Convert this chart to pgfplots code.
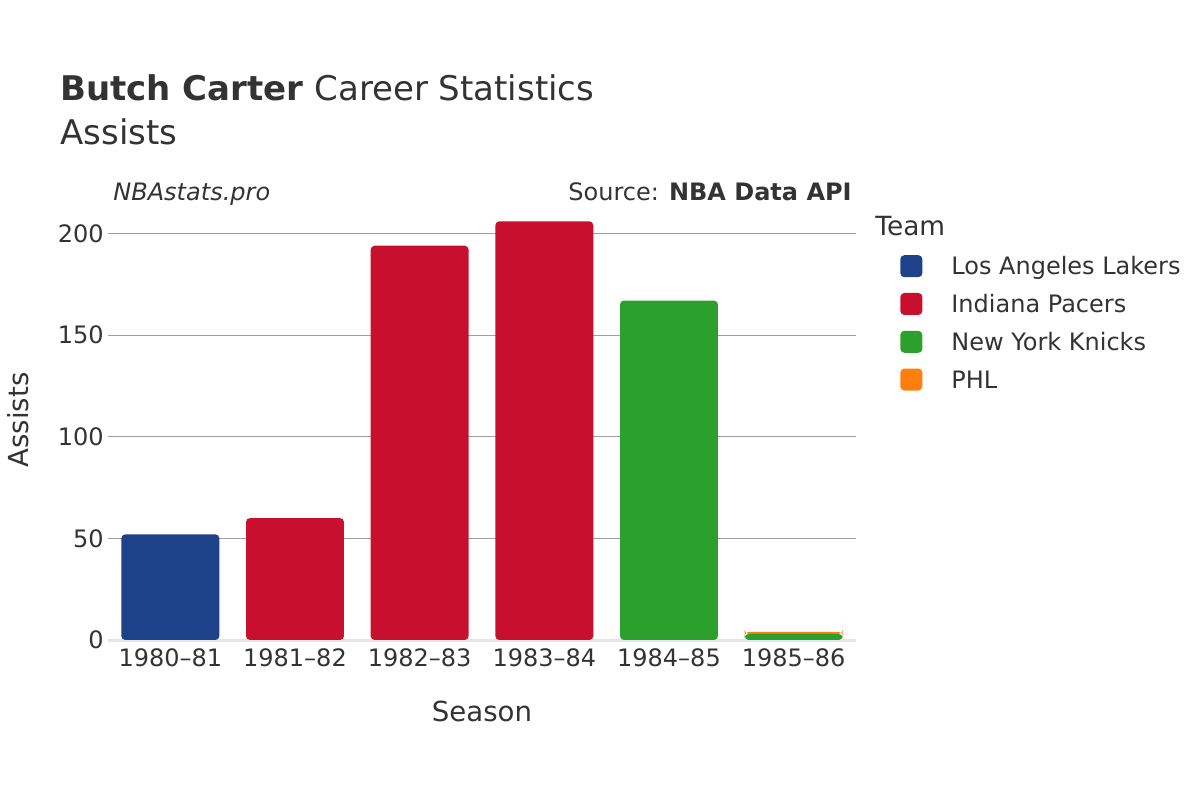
\documentclass[border=0pt]{standalone}
\usepackage{pgfplots}
\pgfplotsset{compat=1.18}
\usepackage{fontspec}
\setmainfont{DejaVu Sans}
\definecolor{txt}{HTML}{333333}
\definecolor{lal}{HTML}{1D428A}
\definecolor{ind}{HTML}{C8102E}
\definecolor{nyk}{HTML}{2CA02C}
\definecolor{phl}{HTML}{FF7F0E}
\begin{document}
\begin{tikzpicture}
\path[use as bounding box] (0,0) rectangle (600bp,400bp);
\begin{axis}[
  at={(54bp,80bp)}, anchor=south west,
  scale only axis, width=374bp, height=219.5bp,
  ybar stacked, bar width=0.786,
  xmin=-0.5, xmax=5.5, ymin=0, ymax=216,
  xtick={0,...,5},
  xticklabels={1980–81,1981–82,1982–83,1983–84,1984–85,1985–86},
  ytick={0,50,100,150,200},
  extra y ticks={0}, extra y tick labels={},
  extra y tick style={grid style={black!10, line width=1.5bp}},
  ymajorgrids, grid style={gray!75, line width=0.5bp},
  axis line style={draw=none}, major tick style={draw=none},
  tick label style={font=\fontsize{12bp}{14bp}\selectfont, text=txt},
  /pgf/number format/assume math mode=true,
  yticklabel style={inner sep=0pt, xshift=-2bp},
  xticklabel style={inner sep=0pt, yshift=-4bp},
  every axis plot/.append style={draw=none, rounded corners=2bp},
  legend style={at={(axis description cs:1.0588,0.8775)}, anchor=north west,
    draw=none, fill=none, inner sep=0pt, row sep=6bp, column sep=14.5bp,
    font=\fontsize{12bp}{14bp}\selectfont, text=txt,
    nodes={inner sep=0pt, text height=9bp, text depth=3bp}},
  legend cell align=left,
  legend image code/.code={\fill[#1, rounded corners=2bp] (0bp,-4.1bp) rectangle (11bp,6.9bp);},
]
\addplot[fill=lal] coordinates {(0,52) (1,0) (2,0) (3,0) (4,0) (5,0)};
\addlegendentry{Los Angeles Lakers}
\addplot[fill=ind] coordinates {(0,0) (1,60) (2,194) (3,206) (4,0) (5,0)};
\addlegendentry{Indiana Pacers}
\addplot[fill=nyk] coordinates {(0,0) (1,0) (2,0) (3,0) (4,167) (5,3)};
\addlegendentry{New York Knicks}
\addplot[fill=phl] coordinates {(0,0) (1,0) (2,0) (3,0) (4,0) (5,1)};
\addlegendentry{PHL}
\end{axis}
\node[anchor=base west, text=txt, inner sep=0pt, font=\fontsize{17bp}{20bp}\selectfont] at (30bp,349.5bp) {\textbf{Butch Carter} Career Statistics};
\node[anchor=base west, text=txt, inner sep=0pt, font=\fontsize{17bp}{20bp}\selectfont] at (30bp,327.5bp) {Assists};
\node[anchor=base west, text=txt, inner sep=0pt, font=\fontsize{12bp}{14bp}\selectfont\itshape] at (56.5bp,299.6bp) {NBAstats.pro};
\node[anchor=base east, text=txt, inner sep=0pt, font=\fontsize{12bp}{14bp}\selectfont] at (426bp,299.6bp) {Source: \textbf{NBA Data API}};
\node[text=txt, inner sep=0pt, rotate=90, font=\fontsize{13.8bp}{16bp}\selectfont] at (9bp,190bp) {Assists};
\node[text=txt, inner sep=0pt, font=\fontsize{13.8bp}{16bp}\selectfont] at (241bp,44.5bp) {Season};
\node[anchor=base west, text=txt, inner sep=0pt, font=\fontsize{13.2bp}{16bp}\selectfont] at (437.5bp,282.2bp) {Team};
\end{tikzpicture}
\end{document}
